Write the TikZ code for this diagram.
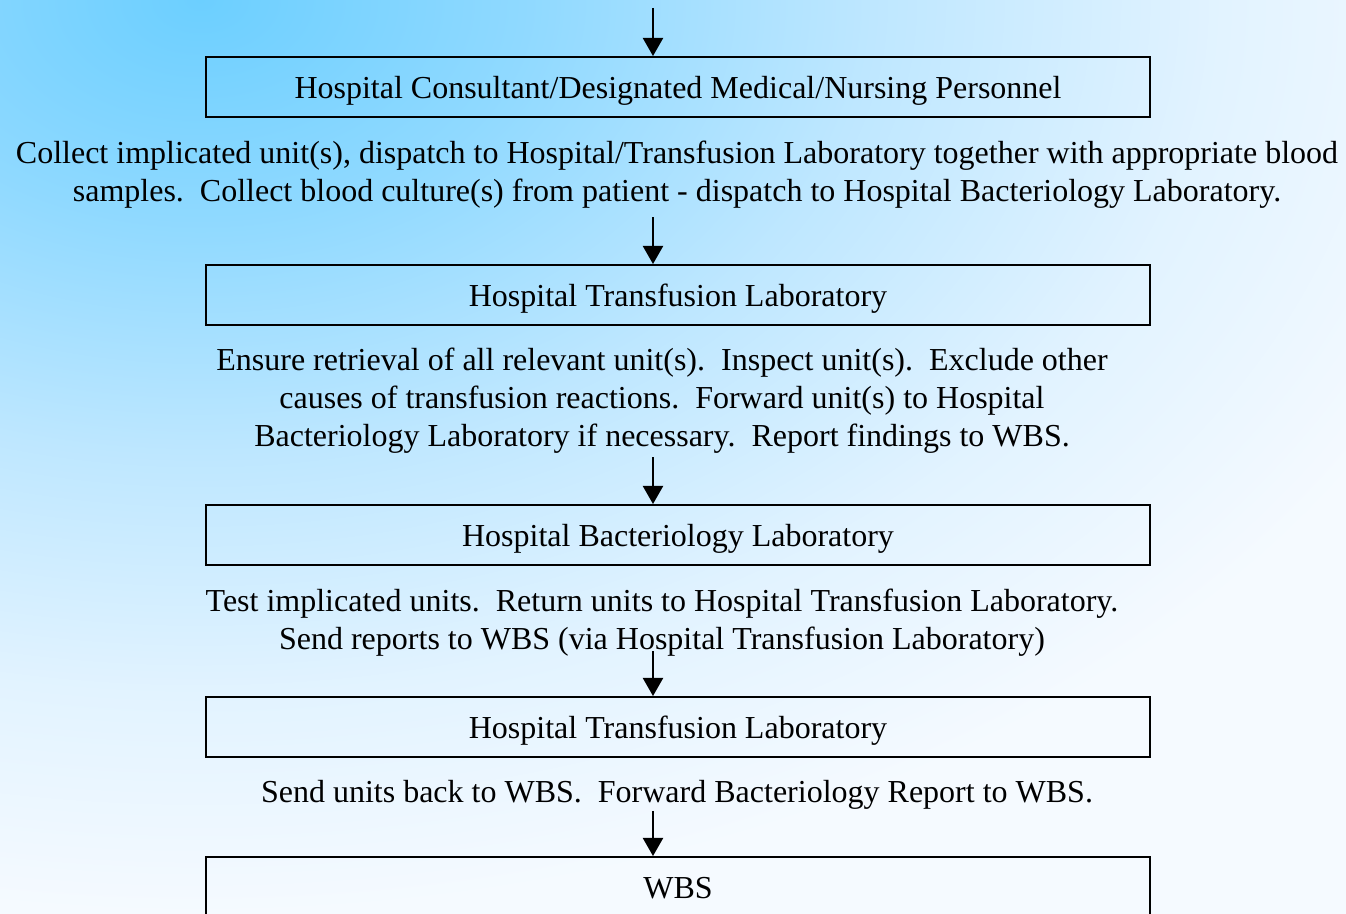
\documentclass[tikz,border=0pt]{standalone}
\usepackage{fontspec}
\setmainfont{Liberation Serif}
\usetikzlibrary{arrows.meta}
\definecolor{sky}{HTML}{6CCFFF}
\definecolor{skyA}{HTML}{8FD9FF}
\definecolor{skyB}{HTML}{BEE7FF}
\definecolor{skyC}{HTML}{E2F3FF}
\definecolor{pale}{HTML}{F5FAFF}
\pgfdeclareradialshading{glow}{\pgfpoint{0bp}{0bp}}{color(0bp)=(sky); color(6bp)=(skyA); color(12.5bp)=(skyB); color(19bp)=(skyC); color(25bp)=(pale); color(50bp)=(pale)}
\tikzset{
  box/.style={draw,line width=1pt,minimum width=472pt,minimum height=30pt,inner sep=0pt,
    text height=12pt,text depth=0pt,font=\fontsize{16}{19}\selectfont},
  txt/.style={align=center,inner sep=0pt,font=\fontsize{16}{19}\selectfont},
  ar/.style={-{Triangle[length=9pt,width=10pt]},line width=1pt},
}

\begin{document}
\begin{tikzpicture}[x=0.5pt,y=-0.5pt]
% page and its glow
\useasboundingbox (0,0) rectangle (1346,914);
\fill[pale] (0,0) rectangle (1346,914);
\begin{scope}
\clip (0,0) rectangle (1346,914);
\shade[shading=glow] (200,0) ellipse [x radius=673pt,y radius=457pt];
\end{scope}

\node[box] (consult) at (678,87) {Hospital Consultant/Designated Medical/Nursing Personnel};
\node[txt] (collect) at (677,175) {Collect implicated unit(s), dispatch to Hospital/Transfusion Laboratory together with appropriate blood\\
  samples.~~Collect blood culture(s) from patient - dispatch to Hospital Bacteriology Laboratory.};
\node[box] (htl) at (678,295) {Hospital Transfusion Laboratory};
\node[txt] (ensure) at (662,401) {Ensure retrieval of all relevant unit(s).~~Inspect unit(s).~~Exclude other\\
  causes of transfusion reactions.~~Forward unit(s) to Hospital\\
  Bacteriology Laboratory if necessary.~~Report findings to WBS.};
\node[box] (hbl) at (678,535) {Hospital Bacteriology Laboratory};
\node[txt] (test) at (662,623) {Test implicated units.~~Return units to Hospital Transfusion Laboratory.\\
  Send reports to WBS (via Hospital Transfusion Laboratory)};
\node[box] (htl2) at (678,727) {Hospital Transfusion Laboratory};
\node[txt] (send) at (677,795) {Send units back to WBS.~~Forward Bacteriology Report to WBS.};
\node[box] (wbs) at (678,887) {WBS};

% arrows run down the x=653 line
\coordinate (top) at (653,8);
\draw[ar] (top) -- (consult.north -| top);
\draw[ar] ([yshift=-4pt]collect.south -| top) -- (htl.north -| top);
\draw[ar] ([yshift=-1.5pt]ensure.south -| top) -- (hbl.north -| top);
\draw[ar] ([yshift=3pt]test.south -| top) -- (htl2.north -| top);
\draw[ar] ([yshift=-0.5pt]send.south -| top) -- (wbs.north -| top);
\end{tikzpicture}
\end{document}
